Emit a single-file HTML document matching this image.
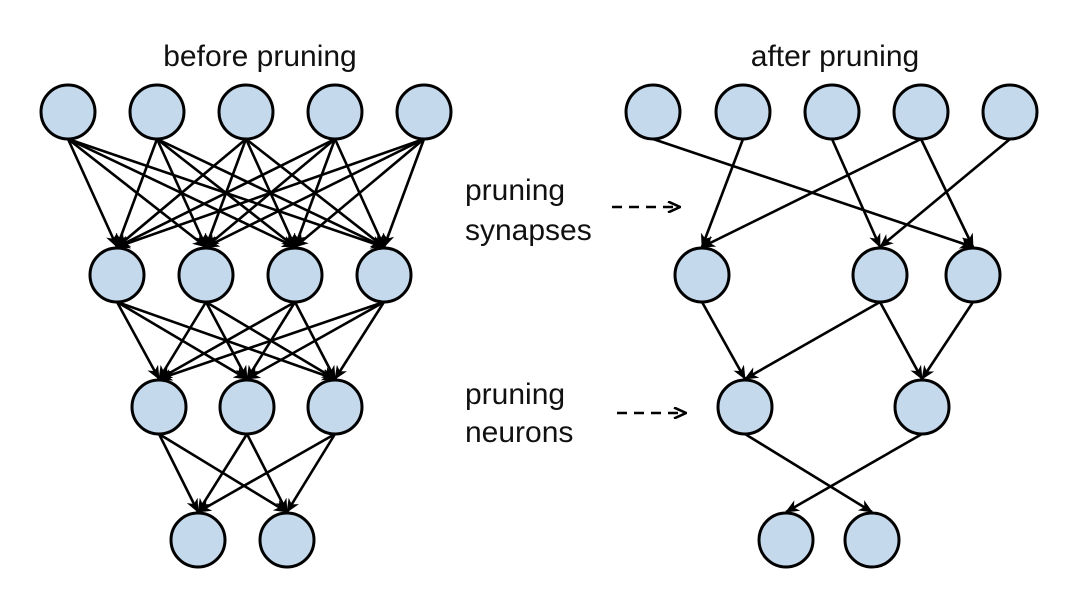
<!DOCTYPE html>
<html><head><style>body{margin:0;background:#fff}svg{display:block}</style></head><body>
<svg width="1080" height="593" viewBox="0 0 1080 593" xmlns="http://www.w3.org/2000/svg">
<defs>
<marker id="a" viewBox="0 0 14 12" refX="13" refY="6" markerWidth="14" markerHeight="12" markerUnits="userSpaceOnUse" orient="auto"><path d="M0,0 L14,6 L0,12 L4,6 Z" fill="#000"/></marker>
<marker id="d" viewBox="0 0 14 12" refX="13" refY="6" markerWidth="14" markerHeight="12" markerUnits="userSpaceOnUse" orient="auto"><path d="M1,0.5 L13,6 L1,11.5" fill="none" stroke="#000" stroke-width="2.6"/></marker>
</defs>
<g font-family="Liberation Sans, sans-serif" font-size="30" fill="#111">
<text x="260" y="66" text-anchor="middle">before pruning</text>
<text x="835" y="66" text-anchor="middle">after pruning</text>
<text x="465" y="200">pruning</text>
<text x="465" y="240">synapses</text>
<text x="465" y="404">pruning</text>
<text x="465" y="442">neurons</text>
</g>
<g stroke="#000" stroke-width="2.6" stroke-dasharray="10,7" fill="none">
<line x1="612" y1="207" x2="680" y2="207" marker-end="url(#d)"/>
<line x1="617" y1="413" x2="686" y2="413" marker-end="url(#d)"/>
</g>
<g id="edges" stroke="#000" stroke-width="2.6" fill="none"></g>
<g id="nodes" fill="#c5d9ec" stroke="#000" stroke-width="3"></g>
<script>
var L=[[[68,157,246,335,424],112],[[117,206,295,384],275],[[159,247,335],407],[[198,287],540]];
var R=[[[653,743,832,921,1010],112],[[702,880,973],275],[[745,922],407],[[786,872],540]];
var r=27,E=document.getElementById('edges'),N=document.getElementById('nodes'),ns='http://www.w3.org/2000/svg';
function line(x1,y1,x2,y2){var l=document.createElementNS(ns,'line');l.setAttribute('x1',x1);l.setAttribute('y1',y1+r);l.setAttribute('x2',x2);l.setAttribute('y2',y2-r-1);l.setAttribute('marker-end','url(#a)');E.appendChild(l);}
for(var i=0;i<3;i++)L[i][0].forEach(function(a){L[i+1][0].forEach(function(b){line(a,L[i][1],b,L[i+1][1]);});});
var re=[[0,0,2],[0,1,0],[0,2,1],[0,3,0],[0,3,2],[0,4,1],[1,0,0],[1,1,0],[1,1,1],[1,2,1],[2,0,1],[2,1,0]];
re.forEach(function(e){var a=R[e[0]],b=R[e[0]+1];line(a[0][e[1]],a[1],b[0][e[2]],b[1]);});
[L,R].forEach(function(net){net.forEach(function(ly){ly[0].forEach(function(x){var c=document.createElementNS(ns,'circle');c.setAttribute('cx',x);c.setAttribute('cy',ly[1]);c.setAttribute('r',r);N.appendChild(c);});});});
</script>
</svg>
</body></html>
